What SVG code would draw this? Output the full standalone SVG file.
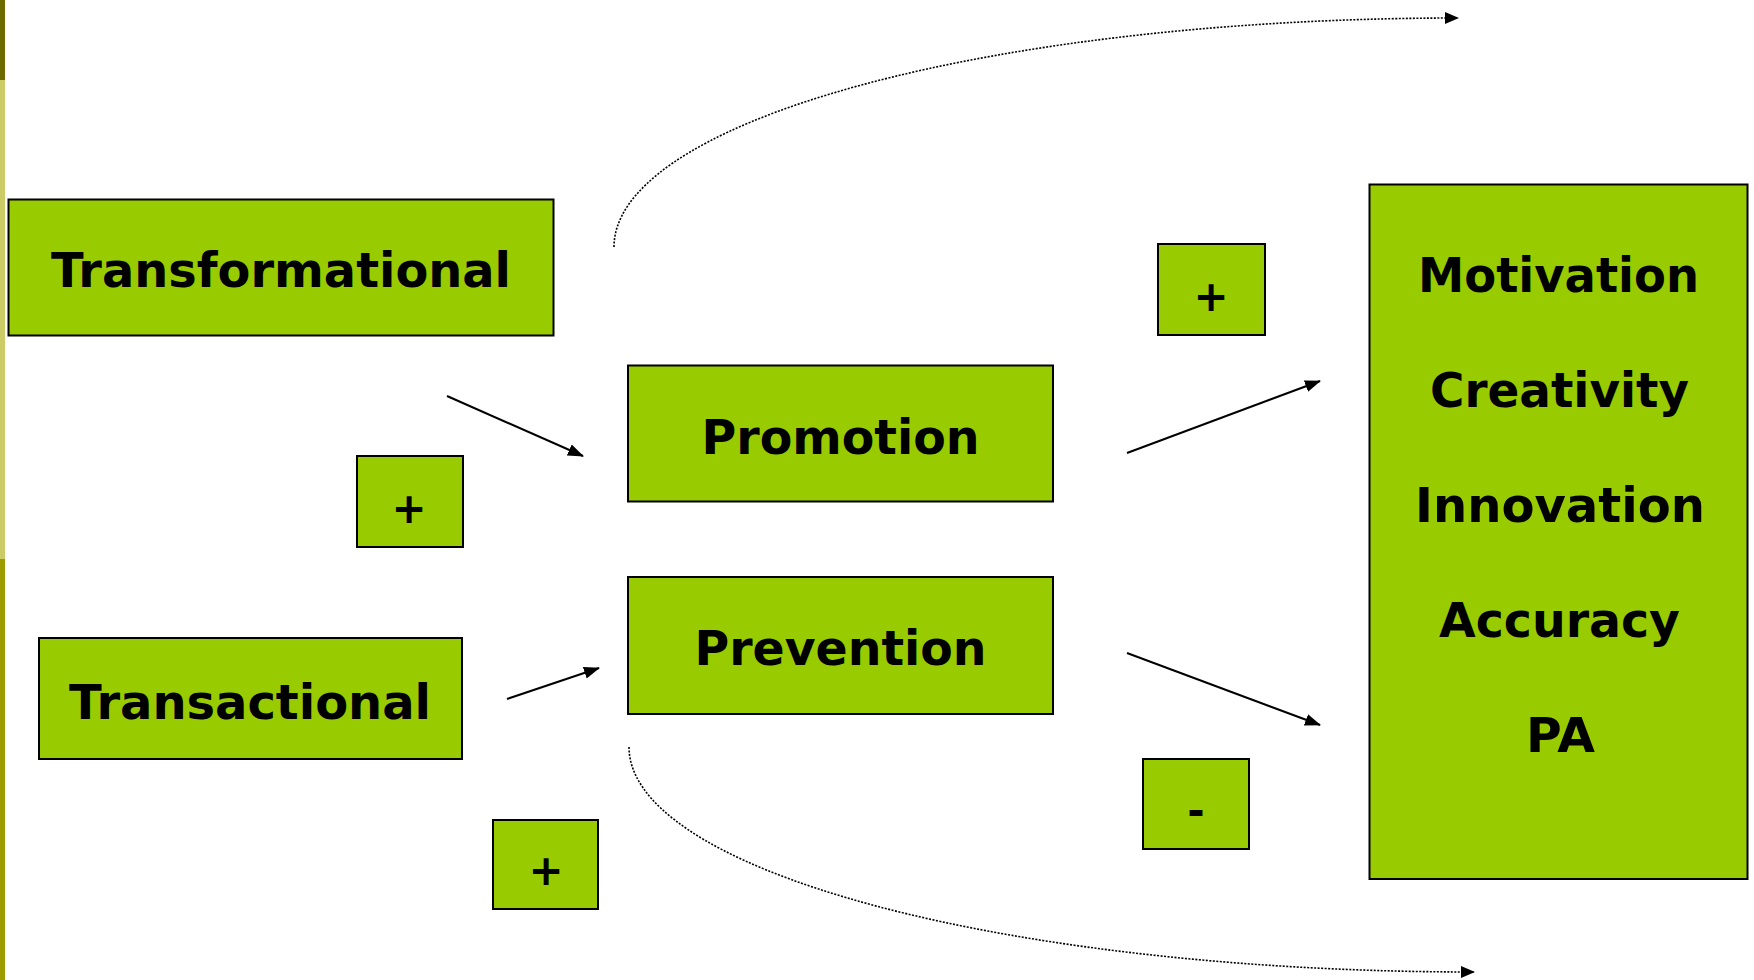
<svg xmlns="http://www.w3.org/2000/svg" width="1754" height="980" viewBox="0 0 1754 980">
<style>
.box{fill:#99cc00;stroke:#000;stroke-width:2}
.lbl{font-family:"DejaVu Sans",Verdana,sans-serif;font-weight:bold;font-size:48px;fill:#000;text-anchor:middle}
.sign{font-family:"DejaVu Sans",Verdana,sans-serif;font-weight:bold;font-size:42px;fill:#000;text-anchor:middle}
.solid{fill:none;stroke:#000;stroke-width:2}
.dot{fill:none;stroke:#000;stroke-width:1.6;stroke-dasharray:2 1.5}
</style>
<defs>
<marker id="ah" markerUnits="userSpaceOnUse" markerWidth="16" markerHeight="12" refX="15" refY="6" orient="auto">
<path d="M0,0 L16,6 L0,12 z" fill="#000"/>
</marker>
<marker id="ahd" markerUnits="userSpaceOnUse" markerWidth="14" markerHeight="12" refX="13" refY="6" orient="auto">
<path d="M0,0 L14,6 L0,12 z" fill="#000"/>
</marker>
</defs>
<rect width="1754" height="980" fill="#fff"/>
<g id="sidebar">
<rect x="0" y="0" width="5" height="80" fill="#6b6b00"/>
<rect x="0" y="80" width="5" height="479" fill="#cccc66"/>
<rect x="0" y="559" width="5" height="421" fill="#9c9c00"/>
</g>
<g id="connectors">
<line class="solid" x1="447" y1="396" x2="583" y2="456" marker-end="url(#ah)"/>
<line class="solid" x1="507" y1="699" x2="599" y2="668" marker-end="url(#ah)"/>
<line class="solid" x1="1127" y1="453" x2="1320" y2="381" marker-end="url(#ah)"/>
<line class="solid" x1="1127" y1="653" x2="1320" y2="725" marker-end="url(#ah)"/>
<path class="dot" d="M614,247 A844,229 0 0 1 1458,18" marker-end="url(#ahd)"/>
<path class="dot" d="M629,747 A845,225 0 0 0 1474,972" marker-end="url(#ahd)"/>
</g>
<g id="transformational">
<rect class="box" x="8.5" y="199.5" width="545" height="136"/>
<text class="lbl" x="281" y="287" textLength="460" lengthAdjust="spacingAndGlyphs">Transformational</text>
</g>
<g id="transactional">
<rect class="box" x="39" y="638" width="423" height="121"/>
<text class="lbl" x="250" y="719" textLength="362" lengthAdjust="spacingAndGlyphs">Transactional</text>
</g>
<g id="promotion">
<rect class="box" x="628" y="365.5" width="425" height="136"/>
<text class="lbl" x="840.5" y="454" textLength="278" lengthAdjust="spacingAndGlyphs">Promotion</text>
</g>
<g id="prevention">
<rect class="box" x="628" y="577" width="425" height="137"/>
<text class="lbl" x="840.5" y="665" textLength="292" lengthAdjust="spacingAndGlyphs">Prevention</text>
</g>
<g id="outcomes">
<rect class="box" x="1369.5" y="184.5" width="378" height="694.5"/>
<text class="lbl" x="1558.5" y="292" textLength="281" lengthAdjust="spacingAndGlyphs">Motivation</text>
<text class="lbl" x="1559.5" y="407" textLength="259" lengthAdjust="spacingAndGlyphs">Creativity</text>
<text class="lbl" x="1560" y="522" textLength="290" lengthAdjust="spacingAndGlyphs">Innovation</text>
<text class="lbl" x="1559.5" y="637" textLength="241" lengthAdjust="spacingAndGlyphs">Accuracy</text>
<text class="lbl" x="1560.5" y="752" textLength="69" lengthAdjust="spacingAndGlyphs">PA</text>
</g>
<g id="sign-plus-top">
<rect class="box" x="1158" y="244" width="107" height="91"/>
<text class="sign" x="1211" y="311">+</text>
</g>
<g id="sign-plus-left">
<rect class="box" x="357" y="456" width="106" height="91"/>
<text class="sign" x="409" y="523">+</text>
</g>
<g id="sign-plus-bottom">
<rect class="box" x="493" y="820" width="105" height="89"/>
<text class="sign" x="546" y="885">+</text>
</g>
<g id="sign-minus">
<rect class="box" x="1143" y="759" width="106" height="90"/>
<text class="sign" x="1196" y="825">-</text>
</g>
</svg>
